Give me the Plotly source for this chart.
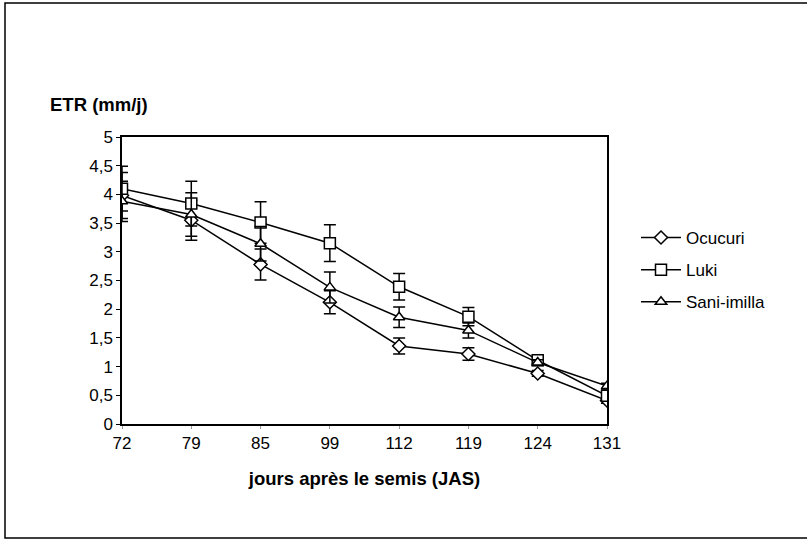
import plotly.graph_objects as go

days = ["72", "79", "85", "99", "112", "119", "124", "131"]
ocucuri = [3.98, 3.55, 2.78, 2.12, 1.36, 1.22, 0.88, 0.41]
ocucuri_err = [0.40, 0.35, 0.27, 0.20, 0.14, 0.11, 0.05, 0.05]
luki = [4.10, 3.84, 3.51, 3.15, 2.39, 1.87, 1.11, 0.49]
luki_err = [0.39, 0.39, 0.36, 0.32, 0.23, 0.16, 0.06, 0.06]
sani = [3.88, 3.65, 3.14, 2.38, 1.86, 1.63, 1.07, 0.66]
sani_err = [0.35, 0.38, 0.30, 0.27, 0.18, 0.13, 0.05, 0.05]
y_ticks = [0, 0.5, 1, 1.5, 2, 2.5, 3, 3.5, 4, 4.5, 5]
y_ticktext = ["0", "0,5", "1", "1,5", "2", "2,5", "3", "3,5", "4", "4,5", "5"]

FONT = "Arial, Liberation Sans, sans-serif"

series = [
    ("Ocucuri", ocucuri, ocucuri_err, "diamond", 10),
    ("Luki", luki, luki_err, "square", 11),
    ("Sani-imilla", sani, sani_err, "triangle-up", 10),
]

fig = go.Figure()
for i, (name, vals, err, sym, size) in enumerate(series):
    fig.add_trace(go.Scatter(
        x=days, y=vals, name=name, mode="lines+markers",
        line=dict(color="black", width=1.5),
        marker=dict(symbol=sym, size=size, color="white",
                    line=dict(color="black", width=1.5)),
        error_y=dict(type="data", array=err, visible=True,
                     color="black", thickness=1.5, width=6),
        legendgroup=str(i),
    ))

L, R, T, B = 122, 200, 137, 116
W, H = 807, 540
pw, ph = W - L - R, H - T - B

def px(x):
    return (x - L) / pw

def py(y):
    return (H - B - y) / ph

fig.update_layout(
    width=W, height=H,
    margin=dict(l=L, r=R, t=T, b=B),
    paper_bgcolor="white", plot_bgcolor="white",
    font=dict(family=FONT, size=17, color="black"),
    showlegend=True,
    legend=dict(x=px(636), y=py(220), xanchor="left", yanchor="top",
                font=dict(size=17), bgcolor="rgba(0,0,0,0)",
                tracegroupgap=7, itemwidth=40),
    xaxis=dict(type="category", range=[0, 7], showgrid=False,
               showline=True, linecolor="black", linewidth=1.5, mirror=True,
               ticks="outside", ticklen=3, tickcolor="#999",
               tickfont=dict(size=17),
               title=dict(text="<b>jours après le semis (JAS)</b>",
                          font=dict(size=18.5), standoff=20)),
    yaxis=dict(range=[0, 5], tickvals=y_ticks, ticktext=y_ticktext,
               showgrid=False, zeroline=False,
               showline=True, linecolor="black", linewidth=1.5, mirror=True,
               ticks="outside", ticklen=4, tickcolor="black",
               tickfont=dict(size=17)),
    annotations=[dict(text="<b>ETR (mm/j)</b>", xref="paper", yref="paper",
                      x=px(48), y=py(104), xanchor="left", yanchor="middle",
                      showarrow=False, font=dict(size=18.5))],
    shapes=[dict(type="rect", xref="paper", yref="paper",
                 x0=px(5), x1=px(815), y0=py(3), y1=py(538),
                 line=dict(color="black", width=1.5))],
)

fig.write_html("out.html",
               config={"displayModeBar": False},
               post_script="document.body.style.margin='0';"
                           "document.body.style.overflow='hidden';")
